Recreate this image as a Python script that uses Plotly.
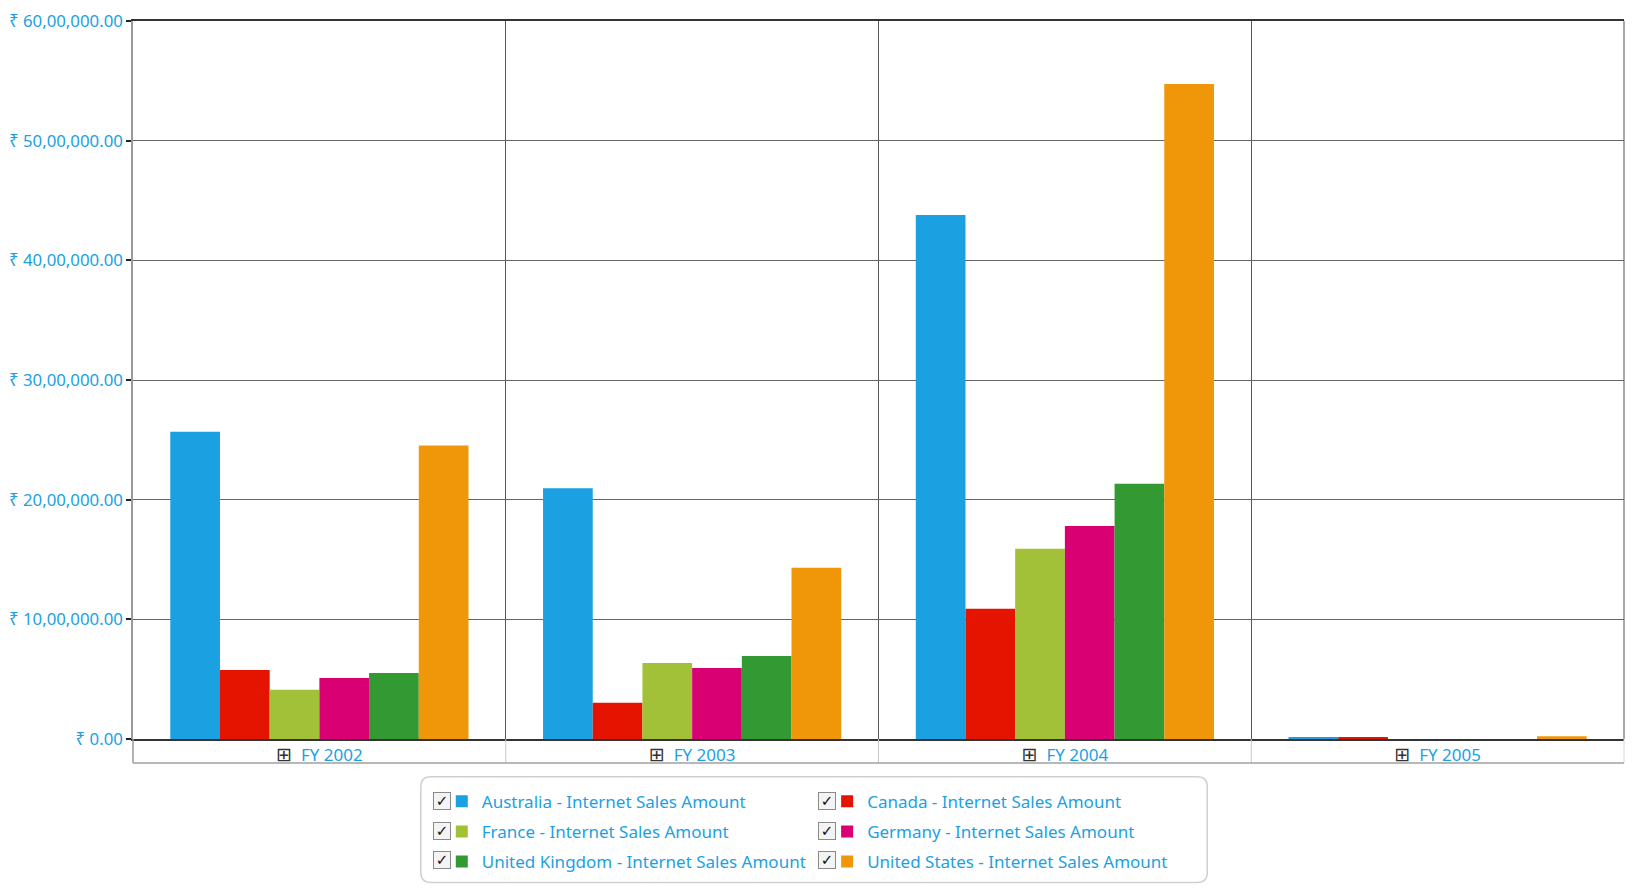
import plotly.graph_objects as go

# ---- data ----
years = ["FY 2002", "FY 2003", "FY 2004", "FY 2005"]
series_names = [
    "Australia - Internet Sales Amount",
    "Canada - Internet Sales Amount",
    "France - Internet Sales Amount",
    "Germany - Internet Sales Amount",
    "United Kingdom - Internet Sales Amount",
    "United States - Internet Sales Amount",
]
australia = [2568000, 2095000, 4378000, 12000]
canada = [577000, 303000, 1089000, 11000]
france = [411000, 635000, 1590000, 0]
germany = [510000, 593000, 1780000, 0]
united_kingdom = [552000, 693000, 2134000, 0]
united_states = [2452000, 1432000, 5473000, 24000]
series_values = [australia, canada, france, germany, united_kingdom, united_states]

y_tickvals = [0, 1000000, 2000000, 3000000, 4000000, 5000000, 6000000]
y_ticktext = ["₹ 0.00", "₹ 10,00,000.00", "₹ 20,00,000.00", "₹ 30,00,000.00",
              "₹ 40,00,000.00", "₹ 50,00,000.00", "₹ 60,00,000.00"]

colors = ["#1ba1e2", "#e51400", "#a2c139", "#d80073", "#339933", "#f09609"]
legend_of = ["legend", "legend2", "legend", "legend2", "legend", "legend2"]

W, H = 1633, 889
ML, MR, MT, MB = 132, 9, 19, 149
PW, PH = W - ML - MR, H - MT - MB


def px_x(px):
    return (px - ML) / PW


def px_y(py):
    return (H - MB - py) / PH


fig = go.Figure()
for name, vals, col, lg in zip(series_names, series_values, colors, legend_of):
    fig.add_trace(go.Bar(
        x=years, y=vals, name=name, marker=dict(color=col, line=dict(width=0)),
        legend=lg, legendgroup=name,
    ))

icon = '<span style="color:#333;font-family:DejaVu Sans;font-size:19px">⊞</span>  '
x_ticktext = [icon + y for y in years]

shapes = []
label_bottom = -24 / PH
# category dividers in label row
for xv in [0.5, 1.5, 2.5]:
    shapes.append(dict(type="line", xref="x", yref="paper", x0=xv, x1=xv, y0=0, y1=label_bottom,
                       line=dict(color="#c8c8c8", width=1)))
shapes.append(dict(type="line", xref="paper", yref="paper", x0=0, x1=0, y0=0, y1=label_bottom,
                   line=dict(color="#9a9a9a", width=1.5)))
shapes.append(dict(type="line", xref="paper", yref="paper", x0=1, x1=1, y0=0, y1=label_bottom,
                   line=dict(color="#d8d8d8", width=1)))
shapes.append(dict(type="line", xref="paper", yref="paper", x0=0, x1=1, y0=label_bottom, y1=label_bottom,
                   line=dict(color="#a0a0a0", width=1.5)))
# right border
shapes.append(dict(type="line", xref="paper", yref="paper", x0=1, x1=1, y0=0, y1=1,
                   line=dict(color="#555555", width=1)))

# rounded legend box
x0, x1 = px_x(420), px_x(1207)
y0, y1 = px_y(778), px_y(884)
rx, ry = 10 / PW, 10 / PH
path = (f"M{x0+rx},{y0} L{x1-rx},{y0} Q{x1},{y0} {x1},{y0-ry} "
        f"L{x1},{y1+ry} Q{x1},{y1} {x1-rx},{y1} L{x0+rx},{y1} Q{x0},{y1} {x0},{y1+ry} "
        f"L{x0},{y0-ry} Q{x0},{y0} {x0+rx},{y0} Z")
shapes.append(dict(type="path", xref="paper", yref="paper", path=path,
                   line=dict(color="#d0d0d0", width=1.5), fillcolor="rgba(0,0,0,0)"))

# checkboxes
annotations = []
for cx in [441, 826]:
    for cy in [802, 832, 862]:
        annotations.append(dict(
            xref="paper", yref="paper", x=px_x(cx), y=px_y(cy), text="<b>✓</b>", showarrow=False,
            font=dict(family="DejaVu Sans", size=15, color="#111"),
            bordercolor="#8a8a8a", borderwidth=1, bgcolor="#f4f4f4",
            width=16, height=16, borderpad=0, xanchor="center", yanchor="middle",
        ))

legend_common = dict(
    orientation="v", xanchor="left", yanchor="top", traceorder="grouped",
    tracegroupgap=5, bgcolor="rgba(0,0,0,0)", borderwidth=0,
    font=dict(family="Noto Sans", size=17, color="#1ba1e2"),
)

fig.update_layout(
    width=W, height=H, autosize=False,
    margin=dict(l=ML, r=MR, t=MT, b=MB, pad=0),
    paper_bgcolor="white", plot_bgcolor="white",
    barmode="group", bargap=0.2, bargroupgap=0,
    showlegend=True,
    legend=dict(x=px_x(441), y=px_y(785), **legend_common),
    legend2=dict(x=px_x(826.6), y=px_y(785), **legend_common),
    xaxis=dict(
        type="category", tickson="boundaries", showgrid=True, gridcolor="#555555", gridwidth=1,
        ticks="", tickmode="array", tickvals=years, ticktext=x_ticktext,
        tickfont=dict(family="Noto Sans", size=17, color="#1ba1e2"),
        showline=True, linecolor="#333333", linewidth=1.5, mirror=True,
        fixedrange=True,
    ),
    yaxis=dict(
        range=[0, 6000000], tickmode="array", tickvals=y_tickvals, ticktext=y_ticktext,
        tickfont=dict(family="Noto Sans", size=16.8, color="#1ba1e2"),
        showgrid=True, gridcolor="#666666", gridwidth=1,
        zeroline=False, showline=True, linecolor="#9a9a9a", linewidth=1.5,
        ticks="outside", ticklen=5, tickwidth=2, tickcolor="#222222",
        fixedrange=True,
    ),
    shapes=shapes, annotations=annotations,
)

fig.write_html("out.html")
